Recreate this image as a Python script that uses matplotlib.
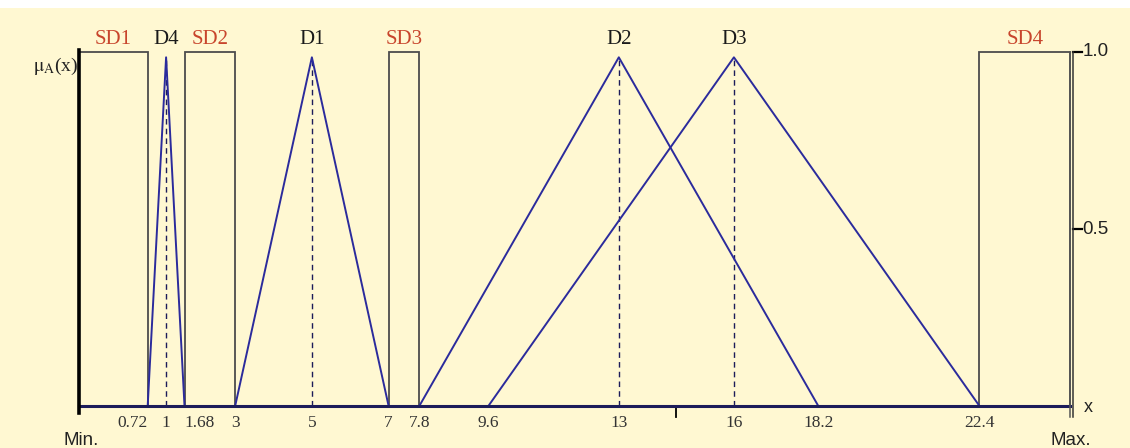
import matplotlib
matplotlib.use("Agg")
import matplotlib.pyplot as plt
from matplotlib.patches import Rectangle

plt.rcParams["mathtext.fontset"] = "stix"

# axis ends (Min. / Max.) in the same units as the tick values
X_MIN = -1.07
X_MAX = 24.76

# triangular sets: name, left foot, peak, right foot
tri_names = ["D4", "D1", "D2", "D3"]
tri_left = [0.72, 3, 7.8, 9.6]
tri_peak = [1.2, 5, 13, 16]
tri_right = [1.68, 7, 18.2, 22.4]

# rectangular sets: name, left, right
rect_names = ["SD1", "SD2", "SD3", "SD4"]
rect_left = [X_MIN, 1.68, 7, 22.4]
rect_right = [0.72, 3, 7.8, X_MAX]

# x tick labels under the axis
tick_pos = [0.72, 1.2, 1.68, 3, 5, 7, 7.8, 9.6, 13, 16, 18.2, 22.4]
tick_txt = ["0.72", "1", "1.68", "3", "5", "7", "7.8", "9.6", "13", "16", "18.2", "22.4"]
tick_ha = ["right", "center", "left"] + ["center"] * 9
blank_tick = 14.5

y_ticks = [1.0, 0.5]
y_tick_txt = ["1.0", "0.5"]

BG = "#fff8d2"
LINE = "#2b2b9c"
AXIS = "#1c1c5a"
BOX = "#4c4c4c"
RED = "#c8452c"
SERIF = "Liberation Serif"
SANS = "Liberation Sans"

fig = plt.figure(figsize=(11.3, 4.48), dpi=100, facecolor="white")
fig.patches.append(Rectangle((0, 0), 1, 440 / 448, transform=fig.transFigure,
                             facecolor=BG, edgecolor="none", zorder=-10))

ax = fig.add_axes([79 / 1130, 42 / 448, 991 / 1130, 354 / 448])
ax.set_facecolor("none")
ax.set_xlim(X_MIN, X_MAX)
ax.set_ylim(0, 1)
ax.axis("off")

# triangles with dashed centre lines
for name, a, b, c in zip(tri_names, tri_left, tri_peak, tri_right):
    ax.plot([a, b, c], [0, 0.985, 0], color=LINE, lw=1.4, zorder=3)
    ax.plot([b, b], [0, 0.985], color=AXIS, lw=1.0, ls=(0, (4, 3)), zorder=2)
    ax.text(b, 1.034, name, ha="center", va="center", fontsize=15,
            family=SERIF, color="#1a1a1a", clip_on=False)

# rectangles
for name, a, b in zip(rect_names, rect_left, rect_right):
    ax.add_patch(Rectangle((a, 0), b - a, 1.0, fill=False, edgecolor=BOX,
                           lw=1.3, zorder=2, clip_on=False))
    ax.text((a + b) / 2, 1.034, name, ha="center", va="center", fontsize=15,
            family=SERIF, color=RED, clip_on=False)

# axes lines
ax.plot([X_MIN, X_MAX], [0, 0], color=AXIS, lw=2.2, zorder=4, clip_on=False)
ax.plot([X_MIN, X_MIN], [-0.02, 1.006], color="black", lw=2.6, zorder=5, clip_on=False)
for dx, c in [(0.0, "#555555"), (0.075, "#333333")]:
    ax.plot([X_MAX + dx, X_MAX + dx], [-0.031, 1.0], color=c, lw=1.1,
            zorder=5, clip_on=False)
ax.plot([blank_tick, blank_tick], [0, -0.03], color="black", lw=1.3, clip_on=False)

# x tick labels
for p, t, h in zip(tick_pos, tick_txt, tick_ha):
    ax.text(p, -0.048, t, ha=h, va="center", fontsize=12.5, family=SERIF,
            color="#333333", clip_on=False)

ax.text(X_MIN + 0.05, -0.098, "Min.", ha="center", va="center", fontsize=13.5,
        family=SANS, color="#222222", clip_on=False)
ax.text(X_MAX + 0.03, -0.098, "Max.", ha="center", va="center", fontsize=13.5,
        family=SANS, color="#222222", clip_on=False)
ax.text(X_MAX + 0.47, -0.005, "x", ha="center", va="center", fontsize=13,
        family=SANS, color="#222222", clip_on=False)

# right y ticks
for v, t in zip(y_ticks, y_tick_txt):
    ax.plot([X_MAX + 0.075, X_MAX + 0.3], [v, v], color="black", lw=1.6, clip_on=False)
    ax.text(X_MAX + 0.33, v, t, ha="left", va="center", fontsize=13.5,
            family=SANS, color="#222222", clip_on=False)

ax.text(X_MIN - 0.02, 0.96, r"$\mathrm{\mu_A}$(x)", ha="right", va="center",
        fontsize=14, family=SERIF, color="#222222", clip_on=False)

fig.savefig("out.png", dpi=100, facecolor="white")
